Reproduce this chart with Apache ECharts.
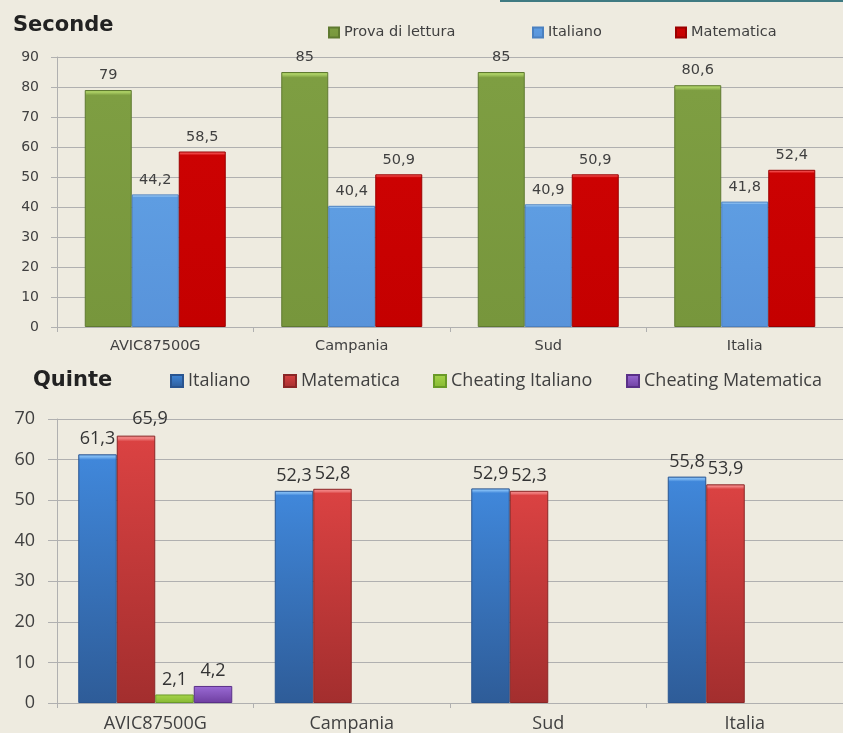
<!DOCTYPE html>
<html>
<head>
<meta charset="utf-8">
<script src="https://cdn.jsdelivr.net/npm/echarts@6/dist/echarts.min.js"></script>
<style>
  html, body { margin: 0; padding: 0; background: #EEEBE0; }
  #c1 { position: absolute; left: 0; top: 0; width: 843px; height: 360px; }
  #c2 { position: absolute; left: 0; top: 360px; width: 843px; height: 373px; }
</style>
</head>
<body>
<div id="c1"></div>
<div id="c2"></div>
<script>
// ---- data ----
const categories = ['AVIC87500G', 'Campania', 'Sud', 'Italia'];
const secondeLettura = [79, 85, 85, 80.6];
const secondeItaliano = [44.2, 40.4, 40.9, 41.8];
const secondeMatematica = [58.5, 50.9, 50.9, 52.4];
const quinteItaliano = [61.3, 52.3, 52.9, 55.8];
const quinteMatematica = [65.9, 52.8, 52.3, 53.9];
const cheatingItaliano = [2.1, null, null, null];
const cheatingMatematica = [4.2, null, null, null];
const ticksSeconde = { min: 0, max: 90, interval: 10 };
const ticksQuinte = { min: 0, max: 70, interval: 10 };

const fmt = p => (p.value == null ? '' : String(p.value).replace('.', ','));
const BG = '#EEEBE0';
const GRID = '#B0B0B0';

function vgrad(cap, top, bottom) {
  return { type: 'linear', x: 0, y: 0, x2: 0, y2: 1,
    colorStops: [{ offset: 0, color: cap }, { offset: 0.01, color: cap }, { offset: 0.022, color: top }, { offset: 1, color: bottom }] };
}
function legendItem(name, left, top, font, size, icon) {
  return { data: [name], left, top, itemWidth: icon, itemHeight: icon, icon: 'rect',
    itemGap: 5, selectedMode: false,
    textStyle: { fontFamily: font, fontSize: size, color: '#404040', padding: [0, 0, 0, 0] } };
}

// ---- chart 1: Seconde ----
const c1 = echarts.init(document.getElementById('c1'));
const f1 = 'DejaVu Sans';
function s1(name, data, color, border) {
  return {
    name, type: 'bar', data, barWidth: 47, barGap: '0%',
    itemStyle: { color, borderColor: border, borderWidth: 1 },
    label: { show: true, position: 'top', distance: 7, formatter: fmt,
      fontFamily: f1, fontSize: 14.5, color: '#404040' }
  };
}
c1.setOption({
  backgroundColor: BG,
  animation: false,
  title: { text: 'Seconde', left: 8, top: 10, textStyle: { fontFamily: 'DejaVu Sans', fontWeight: 'bold', fontSize: 21, color: '#222' } },
  graphic: [{ type: 'rect', shape: { x: 500, y: 0, width: 343, height: 2 }, style: { fill: '#3F7A82' } }],
  legend: [
    legendItem('Prova di lettura', 323, 20, f1, 14.5, 10),
    legendItem('Italiano', 527, 20, f1, 14.5, 10),
    legendItem('Matematica', 670, 20, f1, 14.5, 10)
  ],
  grid: { left: 57, top: 57, width: 794, height: 270 },
  xAxis: {
    type: 'category', data: categories,
    axisLine: { lineStyle: { color: GRID } },
    axisTick: { show: true, length: 5, lineStyle: { color: GRID } },
    axisLabel: { fontFamily: f1, fontSize: 14.5, color: '#404040', margin: 12 }
  },
  yAxis: {
    type: 'value', min: ticksSeconde.min, max: ticksSeconde.max, interval: ticksSeconde.interval,
    axisLine: { show: true, lineStyle: { color: GRID } },
    axisTick: { show: true, length: 6, lineStyle: { color: GRID } },
    splitLine: { lineStyle: { color: GRID } },
    axisLabel: { fontFamily: f1, fontSize: 14, color: '#404040', margin: 18 }
  },
  series: [
    s1('Prova di lettura', secondeLettura, vgrad('#A8CB62', '#7E9E42', '#77963C'), '#5F7A30'),
    s1('Italiano', secondeItaliano, vgrad('#9CCBF5', '#5E9DE2', '#5893DA'), '#4A80C0'),
    s1('Matematica', secondeMatematica, vgrad('#F04848', '#CC0202', '#C40000'), '#9A0000')
  ]
});

// ---- chart 2: Quinte ----
const c2 = echarts.init(document.getElementById('c2'));
const f2 = 'Open Sans';
function s2(name, data, color, border, labelOverrides) {
  return {
    name, type: 'bar', barWidth: 38.5, barGap: '0%',
    data: data.map((v, i) => (labelOverrides && labelOverrides[i]) ? { value: v, label: labelOverrides[i] } : v),
    itemStyle: { color, borderColor: border, borderWidth: 1 },
    label: { show: true, position: 'top', distance: 6, formatter: fmt,
      fontFamily: f2, fontSize: 18, color: '#333' }
  };
}
c2.setOption({
  backgroundColor: BG,
  animation: false,
  title: { text: 'Quinte', left: 28, top: 5, textStyle: { fontFamily: 'DejaVu Sans', fontWeight: 'bold', fontSize: 21, color: '#222' } },
  legend: [
    legendItem('Italiano', 165, 7, f2, 18, 12),
    legendItem('Matematica', 278, 7, f2, 18, 12),
    legendItem('Cheating Italiano', 428, 7, f2, 18, 12),
    legendItem('Cheating Matematica', 621, 7, f2, 18, 12)
  ],
  grid: { left: 57, top: 59, width: 792, height: 284 },
  xAxis: {
    type: 'category', data: categories,
    axisLine: { lineStyle: { color: GRID } },
    axisTick: { show: true, length: 5, lineStyle: { color: GRID } },
    axisLabel: { fontFamily: f2, fontSize: 18, color: '#404040', margin: 12 }
  },
  yAxis: {
    type: 'value', min: ticksQuinte.min, max: ticksQuinte.max, interval: ticksQuinte.interval,
    axisLine: { show: true, lineStyle: { color: GRID } },
    axisTick: { show: true, length: 9, lineStyle: { color: GRID } },
    splitLine: { lineStyle: { color: GRID } },
    axisLabel: { fontFamily: f2, fontSize: 18, color: '#404040', margin: 22 }
  },
  series: [
    s2('Italiano', quinteItaliano, vgrad('#7DB8F2', '#4087DA', '#2E5C98'), '#2A5590'),
    s2('Matematica', quinteMatematica, vgrad('#F08080', '#DA4242', '#A32E2E'), '#8A2626', { 0: { offset: [14, -2] } }),
    s2('Cheating Italiano', cheatingItaliano, vgrad('#D8F080', '#A6D44A', '#86B832'), '#6A9A28'),
    s2('Cheating Matematica', cheatingMatematica, vgrad('#C8A0F0', '#9A6AD4', '#6E3EA0'), '#5A3088')
  ]
});
</script>
</body>
</html>
